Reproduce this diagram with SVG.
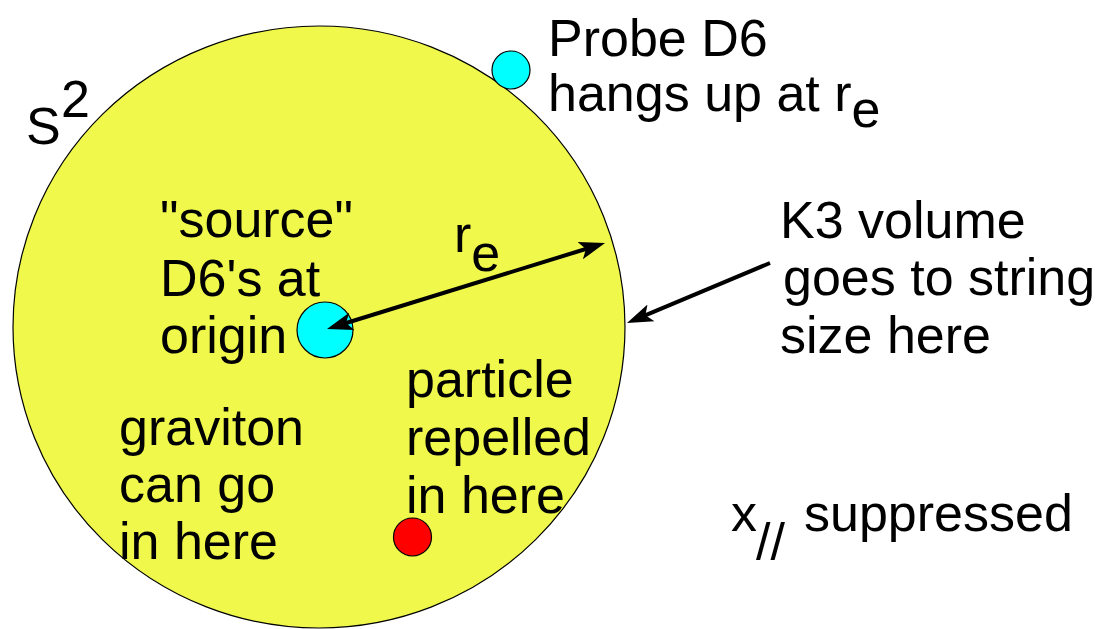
<svg xmlns="http://www.w3.org/2000/svg" width="1101" height="629" viewBox="0 0 1101 629">
<style>
text{font-family:"Liberation Sans",Arial,sans-serif;font-size:52px;fill:#000}
.arrow{stroke:#000;stroke-width:4;fill:none}
</style>
<defs>
<marker id="ah" markerUnits="userSpaceOnUse" markerWidth="28" markerHeight="20" viewBox="0 0 28 20" refX="16" refY="10" orient="auto-start-reverse">
<path d="M0,1 L26,10 L0,19 L6,10 z" fill="#000"/>
</marker>
</defs>
<rect width="1101" height="629" fill="#fff"/>
<g id="sphere">
<ellipse cx="319" cy="327" rx="306" ry="301" fill="#eff84b" stroke="#000" stroke-width="1.2"/>
</g>
<g id="probe">
<circle cx="511" cy="70" r="19" fill="#00ffff" stroke="#000" stroke-width="1.2"/>
</g>
<g id="source">
<circle cx="325" cy="330" r="28" fill="#00ffff" stroke="#000" stroke-width="1.2"/>
</g>
<g id="particle">
<circle cx="412.5" cy="537" r="19" fill="#ff0000" stroke="#000" stroke-width="1.2"/>
</g>
<g id="connectors">
<line class="arrow" x1="336.5" y1="326" x2="595.5" y2="246" marker-start="url(#ah)" marker-end="url(#ah)"/>
<line class="arrow" x1="770" y1="263" x2="636.2" y2="319.1" marker-end="url(#ah)"/>
</g>
<g id="labels">
<text x="26" y="144">S</text>
<text x="61" y="117">2</text>
<text x="548" y="56">Probe D6</text>
<text x="548" y="111">hangs up at r<tspan dy="16">e</tspan></text>
<text x="160" y="237">"source"</text>
<text x="160" y="296">D6's at</text>
<text x="160" y="353">origin</text>
<text x="454" y="252">r<tspan dy="19">e</tspan></text>
<text x="780" y="238">K3 volume</text>
<text x="783" y="295">goes to string</text>
<text x="780" y="353">size here</text>
<text x="406" y="397">particle</text>
<text x="406" y="455">repelled</text>
<text x="406" y="513">in here</text>
<text x="119" y="445">graviton</text>
<text x="119" y="502">can go</text>
<text x="119" y="559">in here</text>
<text x="731" y="531">x</text>
<text x="756" y="560" font-size="34">//</text>
<text x="804" y="531">suppressed</text>
</g>
</svg>
